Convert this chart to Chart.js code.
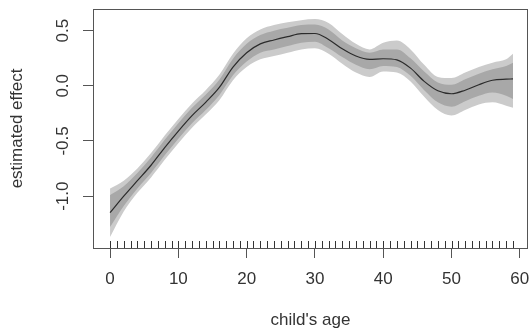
<!DOCTYPE html>
<html>
<head>
<meta charset="utf-8">
<script src="https://cdn.jsdelivr.net/npm/chart.js@4.4.0/dist/chart.umd.min.js"></script>
<style>
  body { margin: 0; background: #fff; }
  #wrap { width: 529px; height: 331px; }
</style>
</head>
<body>
<div id="wrap"><canvas id="plot" width="529" height="331"></canvas></div>
<script>
// smooth term for child's age, with two confidence bands
const ages = [0, 2, 4, 6, 8, 10, 12, 14, 16, 18, 20, 22, 24, 26, 28, 30, 32, 34, 36, 38, 40, 42, 44, 46, 48, 50, 52, 54, 56, 58, 59];
const fit = [-1.15, -1.0, -0.86, -0.72, -0.56, -0.41, -0.27, -0.15, -0.015, 0.17, 0.30, 0.38, 0.415, 0.445, 0.472, 0.474, 0.42, 0.335, 0.27, 0.24, 0.245, 0.235, 0.16, 0.04, -0.045, -0.072, -0.04, 0.01, 0.05, 0.06, 0.062];
const outerLo = [-1.37, -1.14, -0.97, -0.83, -0.67, -0.52, -0.38, -0.26, -0.13, 0.05, 0.17, 0.24, 0.27, 0.30, 0.33, 0.34, 0.29, 0.20, 0.12, 0.08, 0.13, 0.12, 0.04, -0.10, -0.22, -0.27, -0.22, -0.17, -0.15, -0.18, -0.20];
const outerHi = [-0.93, -0.86, -0.75, -0.61, -0.45, -0.30, -0.16, -0.04, 0.10, 0.29, 0.43, 0.51, 0.55, 0.575, 0.595, 0.605, 0.57, 0.47, 0.38, 0.33, 0.39, 0.41, 0.33, 0.19, 0.08, 0.07, 0.12, 0.17, 0.21, 0.24, 0.29];
const innerLo = [-1.28, -1.09, -0.93, -0.79, -0.63, -0.48, -0.34, -0.22, -0.085, 0.095, 0.22, 0.30, 0.33, 0.36, 0.39, 0.40, 0.34, 0.26, 0.19, 0.15, 0.18, 0.17, 0.09, -0.04, -0.15, -0.19, -0.14, -0.09, -0.06, -0.09, -0.12];
const innerHi = [-0.99, -0.91, -0.79, -0.65, -0.49, -0.34, -0.20, -0.08, 0.055, 0.245, 0.38, 0.46, 0.50, 0.525, 0.55, 0.555, 0.51, 0.41, 0.34, 0.30, 0.33, 0.33, 0.25, 0.13, 0.03, 0.01, 0.06, 0.11, 0.15, 0.18, 0.21];
// observed ages shown as a rug
const rugAges = [0, 1, 2, 3, 4, 5, 6, 7, 8, 9, 10, 11, 12, 13, 14, 15, 16, 17, 18, 19, 20, 21, 22, 23, 24, 25, 26, 27, 28, 29, 30, 31, 32, 33, 34, 35, 36, 37, 38, 39, 40, 41, 42, 43, 44, 45, 46, 47, 48, 49, 50, 51, 52, 53, 54, 55, 56, 57, 58, 59];
const xTicks = [0, 10, 20, 30, 40, 50, 60];
const yTicks = [-1.0, -0.5, 0.0, 0.5];

const font = { family: "'Liberation Sans', Arial, sans-serif", size: 17 };
const textColor = '#333';
const axisColor = '#555';

function pts(vals) {
    return ages.map((a, i) => ({ x: a, y: vals[i] }));
}

function band(vals, fill, color) {
    return {
        data: pts(vals),
        fill: fill,
        backgroundColor: color,
        borderWidth: 0,
        pointRadius: 0,
        cubicInterpolationMode: 'monotone'
    };
}

// box around the plot region plus the rug along the bottom
const framePlugin = {
    id: 'frame',
    afterDatasetsDraw(chart) {
        const { ctx, chartArea: a, scales } = chart;
        ctx.save();
        ctx.strokeStyle = '#333';
        ctx.lineWidth = 1;
        ctx.beginPath();
        rugAges.forEach(v => {
            const x = Math.round(scales.x.getPixelForValue(v)) + 0.5;
            ctx.moveTo(x, a.bottom);
            ctx.lineTo(x, a.bottom - 7);
        });
        ctx.stroke();
        ctx.strokeStyle = axisColor;
        ctx.strokeRect(Math.round(a.left) + 0.5, Math.round(a.top) + 0.5,
            Math.round(a.right - a.left) - 1, Math.round(a.bottom - a.top));
        ctx.restore();
    }
};

new Chart(document.getElementById('plot'), {
    type: 'line',
    data: {
        datasets: [
            {
                data: pts(fit),
                borderColor: '#2b2b2b',
                borderWidth: 1.2,
                pointRadius: 0,
                fill: false,
                cubicInterpolationMode: 'monotone'
            },
            band(innerHi, '+1', '#a8a8a8'),
            band(innerLo, false, '#a8a8a8'),
            band(outerHi, '+1', '#cbcbcb'),
            band(outerLo, false, '#cbcbcb')
        ]
    },
    options: {
        responsive: false,
        animation: false,
        layout: { padding: { top: 9, right: 1, left: 0, bottom: 0 } },
        plugins: { legend: { display: false }, tooltip: { enabled: false } },
        scales: {
            x: {
                type: 'linear',
                min: -2.5,
                max: 61.2,
                afterBuildTicks: s => { s.ticks = xTicks.map(v => ({ value: v })); },
                afterFit: s => { s.height = 83; s.paddingLeft = 0; s.paddingRight = 0; },
                grid: { drawOnChartArea: false, drawTicks: true, tickLength: 10, color: axisColor },
                border: { display: false },
                ticks: { padding: 11, font: font, color: textColor, maxRotation: 0, autoSkip: false, callback: v => String(v) },
                title: { display: true, text: "child's age", font: font, color: textColor, padding: { top: 0, bottom: 0 } }
            },
            y: {
                min: -1.47,
                max: 0.696,
                afterBuildTicks: s => { s.ticks = yTicks.map(v => ({ value: v })); },
                afterFit: s => { s.width = 93; s.paddingTop = 0; s.paddingBottom = 0; },
                grid: { drawOnChartArea: false, drawTicks: true, tickLength: 10, color: axisColor },
                border: { display: false },
                ticks: { padding: 5, font: font, color: textColor, minRotation: 90, maxRotation: 90, crossAlign: 'center', autoSkip: false, callback: v => v.toFixed(1) },
                title: { display: true, text: 'estimated effect', font: font, color: textColor, padding: { top: 7, bottom: 0 } }
            }
        }
    },
    plugins: [framePlugin]
});
</script>
</body>
</html>
